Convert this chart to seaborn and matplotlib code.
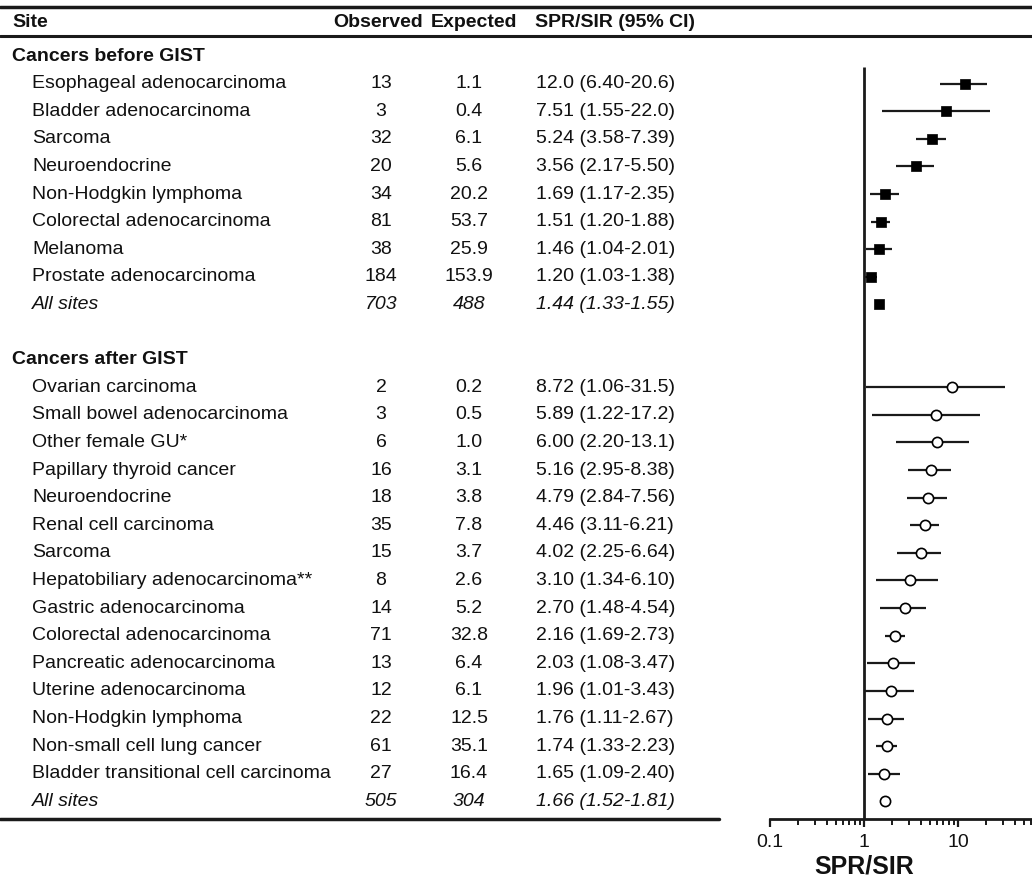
import matplotlib
matplotlib.use('Agg')
import matplotlib.pyplot as plt
import matplotlib.transforms as mtransforms
from matplotlib.ticker import FixedLocator, LogLocator, FuncFormatter, NullFormatter
import seaborn as sns
import pandas as pd
import numpy as np

# Рак до GIST
before_sites = ['Esophageal adenocarcinoma', 'Bladder adenocarcinoma', 'Sarcoma',
                'Neuroendocrine', 'Non-Hodgkin lymphoma', 'Colorectal adenocarcinoma',
                'Melanoma', 'Prostate adenocarcinoma', 'All sites']
before_obs = ['13', '3', '32', '20', '34', '81', '38', '184', '703']
before_exp = ['1.1', '0.4', '6.1', '5.6', '20.2', '53.7', '25.9', '153.9', '488']
before_spr = [12.0, 7.51, 5.24, 3.56, 1.69, 1.51, 1.46, 1.20, 1.44]
before_lo = [6.40, 1.55, 3.58, 2.17, 1.17, 1.20, 1.04, 1.03, 1.33]
before_hi = [20.6, 22.0, 7.39, 5.50, 2.35, 1.88, 2.01, 1.38, 1.55]
before_ci = ['12.0 (6.40-20.6)', '7.51 (1.55-22.0)', '5.24 (3.58-7.39)', '3.56 (2.17-5.50)',
             '1.69 (1.17-2.35)', '1.51 (1.20-1.88)', '1.46 (1.04-2.01)', '1.20 (1.03-1.38)',
             '1.44 (1.33-1.55)']

# Рак после GIST
after_sites = ['Ovarian carcinoma', 'Small bowel adenocarcinoma', 'Other female GU*',
               'Papillary thyroid cancer', 'Neuroendocrine', 'Renal cell carcinoma', 'Sarcoma',
               'Hepatobiliary adenocarcinoma**', 'Gastric adenocarcinoma',
               'Colorectal adenocarcinoma', 'Pancreatic adenocarcinoma', 'Uterine adenocarcinoma',
               'Non-Hodgkin lymphoma', 'Non-small cell lung cancer',
               'Bladder transitional cell carcinoma', 'All sites']
after_obs = ['2', '3', '6', '16', '18', '35', '15', '8', '14', '71', '13', '12', '22', '61', '27', '505']
after_exp = ['0.2', '0.5', '1.0', '3.1', '3.8', '7.8', '3.7', '2.6', '5.2', '32.8', '6.4', '6.1',
             '12.5', '35.1', '16.4', '304']
after_spr = [8.72, 5.89, 6.00, 5.16, 4.79, 4.46, 4.02, 3.10, 2.70, 2.16, 2.03, 1.96, 1.76, 1.74, 1.65, 1.66]
after_lo = [1.06, 1.22, 2.20, 2.95, 2.84, 3.11, 2.25, 1.34, 1.48, 1.69, 1.08, 1.01, 1.11, 1.33, 1.09, 1.52]
after_hi = [31.5, 17.2, 13.1, 8.38, 7.56, 6.21, 6.64, 6.10, 4.54, 2.73, 3.47, 3.43, 2.67, 2.23, 2.40, 1.81]
after_ci = ['8.72 (1.06-31.5)', '5.89 (1.22-17.2)', '6.00 (2.20-13.1)', '5.16 (2.95-8.38)',
            '4.79 (2.84-7.56)', '4.46 (3.11-6.21)', '4.02 (2.25-6.64)', '3.10 (1.34-6.10)',
            '2.70 (1.48-4.54)', '2.16 (1.69-2.73)', '2.03 (1.08-3.47)', '1.96 (1.01-3.43)',
            '1.76 (1.11-2.67)', '1.74 (1.33-2.23)', '1.65 (1.09-2.40)', '1.66 (1.52-1.81)']

headers = ['Site', 'Observed', 'Expected', 'SPR/SIR (95% CI)']
section_titles = ['Cancers before GIST', 'Cancers after GIST']

sns.set_theme(style='white')
plt.rcParams['font.family'] = ['Liberation Sans', 'DejaVu Sans']

# Номера строк: заголовок секции, строки, пустая строка
before_rows = list(range(1, len(before_sites) + 1))
after_title_row = len(before_sites) + 2
after_rows = list(range(after_title_row + 1, after_title_row + 1 + len(after_sites)))

df = pd.DataFrame({
    'row': before_rows + after_rows,
    'spr': before_spr + after_spr,
    'lo': before_lo + after_lo,
    'hi': before_hi + after_hi,
    'group': ['before'] * len(before_sites) + ['after'] * len(after_sites),
})

W, H = 1032, 877
fig = plt.figure(figsize=(W / 100, H / 100), dpi=100)
ax = fig.add_axes([770 / W, 1 - 819 / H, 1 - 770 / W, (819 - 36) / H])

y_bottom, y_top = 27.64, -0.725
x_min, x_max = 0.1, 61.3
ax.set_xscale('log')
ax.set_xlim(x_min, x_max)
ax.set_ylim(y_bottom, y_top)

# Доверительные интервалы
ax.hlines(df['row'], df['lo'], df['hi'], color='#1a1a1a', lw=1.6, zorder=2)
ax.vlines(1, 0.4, y_bottom, color='#1a1a1a', lw=2, zorder=1)

bef = df[df['group'] == 'before']
aft = df[df['group'] == 'after']
sns.scatterplot(data=bef, x='spr', y='row', marker='s', s=50, color='black',
                edgecolor='black', linewidth=0.5, zorder=3, ax=ax, legend=False)
sns.scatterplot(data=aft, x='spr', y='row', marker='o', s=54, facecolor='white',
                edgecolor='black', linewidth=1.2, zorder=3, ax=ax, legend=False)

for side in ['left', 'top', 'right']:
    ax.spines[side].set_visible(False)
ax.spines['bottom'].set_color('#1a1a1a')
ax.spines['bottom'].set_linewidth(2)
ax.set_yticks([])
ax.set_ylabel('')
ax.xaxis.set_major_locator(FixedLocator([0.1, 1, 10, 100]))
ax.xaxis.set_major_formatter(FuncFormatter(lambda v, p: f'{v:g}'))
ax.xaxis.set_minor_locator(LogLocator(base=10, subs=range(2, 10), numticks=20))
ax.xaxis.set_minor_formatter(NullFormatter())
ax.tick_params(axis='x', which='major', bottom=True, direction='out', length=6, width=1.6,
               color='#1a1a1a', labelsize=14, pad=5, labelcolor='#111111')
ax.tick_params(axis='x', which='minor', bottom=True, direction='out', length=4, width=1.4,
               color='#1a1a1a')
ax.set_xlabel('SPR/SIR', fontsize=18, fontweight='bold', color='#111111')
ax.xaxis.set_label_coords(np.log10(1 / x_min) / np.log10(x_max / x_min), -0.045)
ax.grid(False)

# Таблица слева
trans = mtransforms.blended_transform_factory(fig.transFigure, ax.transData)
fs = 14
col_site, col_site_ind, col_obs, col_exp, col_ci = 12 / W, 32 / W, 381 / W, 469 / W, 536 / W
header_row = -1.2
hdr_x = [col_site, 378 / W, 474 / W, 535 / W]
hdr_ha = ['left', 'center', 'center', 'left']

for h, hx, ha in zip(headers, hdr_x, hdr_ha):
    ax.text(hx, header_row, h, transform=trans, fontsize=fs, fontweight='bold',
            va='center', ha=ha, clip_on=False, color='#111111')

for title, r in zip(section_titles, [0, after_title_row]):
    ax.text(col_site, r, title, transform=trans, fontsize=fs, fontweight='bold',
            va='center', ha='left', clip_on=False, color='#111111')

sites = before_sites + after_sites
obs = before_obs + after_obs
exp = before_exp + after_exp
cis = before_ci + after_ci
for r, s_, o, e, c in zip(df['row'], sites, obs, exp, cis):
    style = 'italic' if s_ == 'All sites' else 'normal'
    kw = dict(transform=trans, fontsize=fs, va='center', style=style, clip_on=False, color='#111111')
    ax.text(col_site_ind, r, s_, ha='left', **kw)
    ax.text(col_obs, r, o, ha='center', **kw)
    ax.text(col_exp, r, e, ha='center', **kw)
    ax.text(col_ci, r, c, ha='left', **kw)

# Горизонтальные линии таблицы
ax.plot([0, 1], [-1.775, -1.775], transform=trans, color='#1a1a1a', lw=2.5, clip_on=False)
ax.plot([0, 1], [y_top, y_top], transform=trans, color='#1a1a1a', lw=2.2, clip_on=False)
ax.plot([0, 719 / W], [y_bottom, y_bottom], transform=trans, color='#1a1a1a', lw=2.5, clip_on=False)

fig.savefig('out.png', dpi=100)
